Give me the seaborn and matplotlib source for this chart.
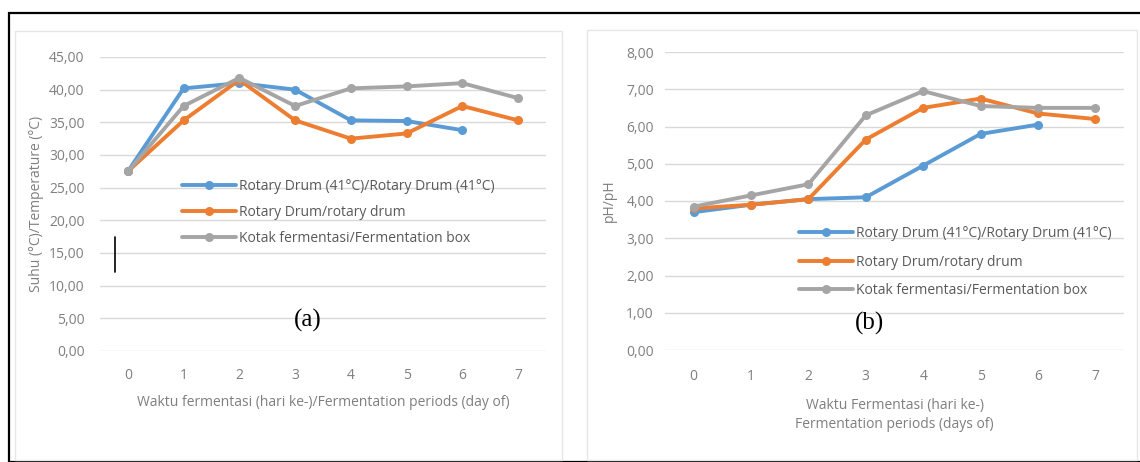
import numpy as np
import pandas as pd
import matplotlib
matplotlib.use("Agg")
import matplotlib.pyplot as plt
from matplotlib.patches import Rectangle
from matplotlib.lines import Line2D
from matplotlib.ticker import FuncFormatter
import seaborn as sns

# data
days = [0, 1, 2, 3, 4, 5, 6, 7]
series = ["Rotary Drum (41°C)/Rotary Drum (41°C)",
          "Rotary Drum/rotary drum",
          "Kotak fermentasi/Fermentation box"]

suhu_drum41 = [27.5, 40.2, 41.0, 40.0, 35.3, 35.2, 33.8, np.nan]
suhu_drum = [27.5, 35.3, 41.5, 35.3, 32.5, 33.3, 37.5, 35.3]
suhu_kotak = [27.5, 37.5, 41.8, 37.5, 40.2, 40.5, 41.0, 38.7]

ph_drum41 = [3.7, 3.9, 4.05, 4.1, 4.95, 5.8, 6.05, np.nan]
ph_drum = [3.8, 3.9, 4.05, 5.65, 6.5, 6.75, 6.35, 6.2]
ph_kotak = [3.85, 4.15, 4.45, 6.3, 6.95, 6.55, 6.5, 6.5]

warna = ["#5B9BD5", "#ED7D31", "#A5A5A5"]


def long_df(vals):
    rows = []
    for nama, v in zip(series, vals):
        for d, y in zip(days, v):
            rows.append({"hari": d, "nilai": y, "seri": nama})
    return pd.DataFrame(rows)


df_suhu = long_df([suhu_drum41, suhu_drum, suhu_kotak])
df_ph = long_df([ph_drum41, ph_drum, ph_kotak])

sns.set_style("white")
plt.rcParams['font.family'] = ['Open Sans', 'DejaVu Sans']

W, H = 1140, 462
fig = plt.figure(figsize=(W / 100, H / 100), dpi=100)

txt = "#7F7F7F"
grid = "#D9D9D9"
fs = 10
lw = 2.8
ms = 6.5


def px_box(x0, x1, ytop, ybot):
    return [x0 / W, 1 - ybot / H, (x1 - x0) / W, (ybot - ytop) / H]


def gaya(ax, ymax, step, xpad, ypad):
    ax.set_xlim(-0.5, 7.5)
    ax.set_ylim(0, ymax)
    ax.set_xticks(days)
    ax.set_yticks(np.arange(0, ymax + step / 2, step))
    ax.yaxis.set_major_formatter(FuncFormatter(lambda v, p: f"{v:.2f}".replace(".", ",")))
    for s in ax.spines.values():
        s.set_visible(False)
    ax.grid(axis="y", color=grid, linewidth=1)
    ax.grid(axis="x", visible=False)
    ax.set_axisbelow(True)
    ax.tick_params(axis="both", length=0, labelsize=fs, labelcolor=txt)
    ax.tick_params(axis="y", pad=ypad)
    ax.tick_params(axis="x", pad=xpad)


# panel frames
fig.add_artist(Rectangle((9 / W, 0), 1, 1 - 13 / H, transform=fig.transFigure,
                         fill=False, edgecolor="black", linewidth=1.6))
fig.add_artist(Rectangle((15 / W, 1 - 460 / H), 547 / W, 429 / H, transform=fig.transFigure,
                         fill=False, edgecolor="#E6E6E6", linewidth=1))
fig.add_artist(Rectangle((587 / W, 1 - 460 / H), 550 / W, 430 / H, transform=fig.transFigure,
                         fill=False, edgecolor="#E6E6E6", linewidth=1))

# (a) temperature
ax1 = fig.add_axes(px_box(100, 546, 57, 351))
sns.lineplot(data=df_suhu, x="hari", y="nilai", hue="seri", palette=warna,
             marker="o", markersize=ms, markeredgewidth=0, linewidth=lw,
             ax=ax1, legend=False)
gaya(ax1, 45, 5, 12, 11)
ax1.set_xlabel("Waktu fermentasi (hari ke-)/Fermentation periods (day of)",
               fontsize=fs, color=txt, labelpad=9)
ax1.set_ylabel("Suhu (°C)/Temperature (°C)", fontsize=fs, color=txt, labelpad=4)
ax1.text(208 / 446, 0.105, "(a)", transform=ax1.transAxes, ha="center", va="center",
         fontsize=18, family="Liberation Serif", color="black")

# (b) pH
ax2 = fig.add_axes(px_box(665, 1124, 52, 350))
sns.lineplot(data=df_ph, x="hari", y="nilai", hue="seri", palette=warna,
             marker="o", markersize=ms, markeredgewidth=0, linewidth=lw,
             ax=ax2, legend=False)
gaya(ax2, 8, 1, 14, 8)
ax2.set_xlabel("Waktu Fermentasi (hari ke-)\nFermentation periods (days of)",
               fontsize=fs, color=txt, labelpad=10, linespacing=1.35)
ax2.set_ylabel("pH/pH", fontsize=fs, color=txt, labelpad=7)
ax2.text(205 / 459, 0.09, "(b)", transform=ax2.transAxes, ha="center", va="center",
         fontsize=18, family="Liberation Serif", color="black")

handles = [Line2D([0], [0], color=c, linewidth=lw, marker="o", markersize=ms,
                  markeredgewidth=0, markevery=[1]) for c in warna]
for h in handles:
    h.set_xdata([0, 0.5, 1])
    h.set_ydata([0, 0, 0])

leg_kw = dict(frameon=False, fontsize=fs, labelcolor="#595959", handlelength=3.9,
              handletextpad=0.2, borderpad=0, borderaxespad=0, loc="upper left")
fig.legend(handles, series, bbox_to_anchor=(182 / W, 1 - 179 / H),
           labelspacing=0.8, **leg_kw)
fig.legend(handles, series, bbox_to_anchor=(799 / W, 1 - 226 / H),
           labelspacing=0.98, **leg_kw)

# stray mark in panel (a)
fig.add_artist(Line2D([115 / W, 115 / W], [1 - 237 / H, 1 - 272 / H],
                      transform=fig.transFigure, color="black", linewidth=1.2))

fig.savefig("out.png", dpi=100)
